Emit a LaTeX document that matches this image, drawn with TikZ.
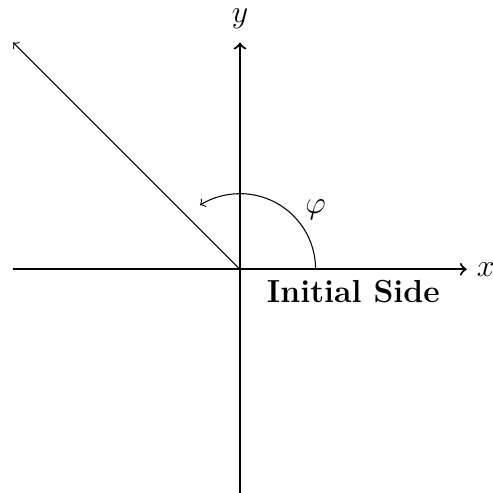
\documentclass[tikz,border=0pt]{standalone}
\begin{document}
\begin{tikzpicture}[
  axis/.style={thick,->},
  lbl/.style={font=\fontsize{12}{14.5}\selectfont, inner sep=0pt}
]
\useasboundingbox (-3.175,-2.959) rectangle (3.347,3.562);
\clip (-3.175,-2.959) rectangle (3.347,3.562);
\coordinate (O) at (0,0);
\coordinate (xl) at (-3,0);
\coordinate (xr) at (3,0);
\coordinate (yb) at (0,-3);
\coordinate (yt) at (0,3);
\coordinate (tip) at (-3,3);
\coordinate (a0) at (1,0);
\draw[thick] (xl) -- (O);
\draw[axis] (O) -- (xr);
\draw[thick] (yb) -- (O);
\draw[axis] (O) -- (yt);
\draw[->] (O) -- (tip);
\draw[->] (a0) arc[start angle=0,end angle=122,radius=1];
\node[lbl] (xlab) at (3.25,0) {$x$};
\node[lbl] (ylab) at (0,3.31) {$y$};
\node[lbl] (phi) at (1.0,0.79) {$\varphi$};
\node[lbl] (init) at (1.5,-0.30) {\bfseries Initial Side};
\end{tikzpicture}
\end{document}
